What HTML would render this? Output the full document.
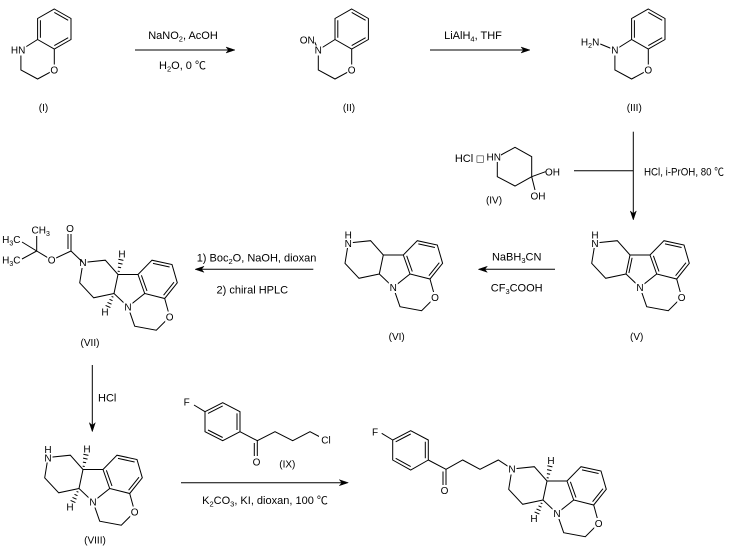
<!DOCTYPE html>
<html><head><meta charset="utf-8"><style>
html,body{margin:0;padding:0;background:#fff;width:730px;height:547px;overflow:hidden}
svg{display:block}
path,line{stroke:#000;stroke-width:1;fill:none}
polygon{fill:#000;stroke:#000;stroke-width:0.5}
text{font-family:"Liberation Sans","Noto Sans CJK SC",sans-serif;fill:#000}
.a{font-size:10px;text-anchor:middle}
.ae{font-size:10px;text-anchor:end}
.as{font-size:10px;text-anchor:start}
.r{font-size:11px;text-anchor:middle}
.rs{font-size:11px;text-anchor:start}
.m{fill:#fff;stroke:none}
</style></head><body>
<svg width="730" height="547" viewBox="0 0 730 547" xmlns="http://www.w3.org/2000/svg">
<rect width="730" height="547" fill="#fff"/>

<!-- (I) -->
<g transform="translate(54.3,29)">
<path d="M0 -20L16.7 -10.5L16.7 10.5L0 20L-16.7 10.5L-16.7 -10.5Z M0 -16.6L13.9 -8.7 M13.9 8.7L0 16.6 M-13.9 -8.7L-13.9 8.7 M-16.7 10.5L-33.4 21L-33.4 41L-16.7 50L0 41L0 20"/>
<rect class="m" x="-4.5" y="35.5" width="9" height="11"/>
<text class="a" x="0" y="44.6">O</text>
<rect class="m" x="-43" y="15.5" width="15" height="11"/>
<text class="ae" x="-29" y="24.6">HN</text>
</g>
<text class="a" x="43.5" y="111">(I)</text>

<!-- arrow 1 -->
<line x1="135" y1="50" x2="229" y2="50"/>
<polygon points="235,50 226,47 228.5,50 226,53"/>
<text class="r" x="183" y="39">NaNO<tspan dy="2.5" font-size="7.5">2</tspan><tspan dy="-2.5">, AcOH</tspan></text>
<text class="r" x="182.5" y="69">H<tspan dy="2.5" font-size="7.5">2</tspan><tspan dy="-2.5">O, 0 ℃</tspan></text>

<!-- (II) -->
<g transform="translate(351.7,29)">
<path d="M0 -20L16.7 -10.5L16.7 10.5L0 20L-16.7 10.5L-16.7 -10.5Z M0 -16.6L13.9 -8.7 M13.9 8.7L0 16.6 M-13.9 -8.7L-13.9 8.7 M-16.7 10.5L-33.4 21L-33.4 41L-16.7 50L0 41L0 20 M-37 13L-33.4 21"/>
<rect class="m" x="-4.5" y="35.5" width="9" height="11"/>
<text class="a" x="0" y="44.6">O</text>
<rect class="m" x="-38" y="16.5" width="9" height="10"/>
<text class="a" x="-33.4" y="24.6">N</text>
<rect class="m" x="-52" y="5" width="15" height="10"/>
<text class="ae" x="-37" y="14.6">ON</text>
</g>
<text class="a" x="349" y="111">(II)</text>

<!-- arrow 2 -->
<line x1="430" y1="50" x2="524" y2="50"/>
<polygon points="530,50 521,47 523.5,50 521,53"/>
<text class="r" x="473" y="39">LiAlH<tspan dy="2.5" font-size="7.5">4</tspan><tspan dy="-2.5">, THF</tspan></text>

<!-- (III) -->
<g transform="translate(648.3,29)">
<path d="M0 -20L16.7 -10.5L16.7 10.5L0 20L-16.7 10.5L-16.7 -10.5Z M0 -16.6L13.9 -8.7 M13.9 8.7L0 16.6 M-13.9 -8.7L-13.9 8.7 M-16.7 10.5L-33.4 21L-33.4 41L-16.7 50L0 41L0 20 M-48 15L-33.4 21"/>
<rect class="m" x="-4.5" y="35.5" width="9" height="11"/>
<text class="a" x="0" y="44.6">O</text>
<rect class="m" x="-38" y="16.5" width="9" height="10"/>
<text class="a" x="-33.4" y="24.6">N</text>
<rect class="m" x="-67" y="7" width="18" height="11"/>
<text class="ae" x="-49" y="16.3">H<tspan dy="2.5" font-size="7">2</tspan><tspan dy="-2.5">N</tspan></text>
</g>
<text class="a" x="634.3" y="111">(III)</text>

<!-- (IV) -->
<path d="M497.3 157L515 147.3L531.7 156.7L531.7 176.7L515 186L497.3 176.7Z M531.7 176.7L545.5 171.7 M531.7 176.7L535 190"/>
<text class="r" x="464" y="162">HCl</text>
<text x="480" y="161.5" font-size="9" text-anchor="middle" style="font-family:'DejaVu Sans',sans-serif">□</text>
<rect class="m" x="486" y="151" width="15" height="11"/>
<text class="ae" x="501" y="160.3">HN</text>
<rect class="m" x="545.5" y="166" width="14" height="11"/>
<text class="a" x="552.5" y="175.3">OH</text>
<rect class="m" x="531" y="190.5" width="14" height="11"/>
<text class="a" x="538" y="199.6">OH</text>
<text class="a" x="494" y="203.6">(IV)</text>

<!-- arrow with branch -->
<line x1="574" y1="170.7" x2="633.3" y2="170.7"/>
<line x1="633.3" y1="131.7" x2="633.3" y2="214"/>
<polygon points="633.3,220 630.3,211 633.3,213.5 636.3,211"/>
<text class="rs" x="644" y="175.7" textLength="80" lengthAdjust="spacingAndGlyphs">HCl, i-PrOH, 80 ℃</text>

<!-- (V) -->
<g>
<path d="M595 243L617.3 240.7L630 255L650 255L664 240.7L684 245L689.3 263.3L676.7 279L656.7 274L650 255 M656.7 274L640 287.3L626 274L630 255 M626 274L605.7 278.3L591.7 263.3L595 243 M640 287.3L646.7 306.7L668.3 310.7L681.7 297.3L676.7 279 M665 243.9L681.6 247.5 M686 262.7L675.6 275.7 M653.4 255.8L659 271.5 M632.1 257.8L628.9 273"/>
<rect class="m" x="590.5" y="229" width="9" height="19"/>
<text class="a" x="595" y="238.3">H</text>
<text class="a" x="595" y="246.8">N</text>
<rect class="m" x="635.5" y="282" width="9" height="11"/>
<text class="a" x="640" y="290.9">N</text>
<rect class="m" x="677.2" y="292" width="9" height="11"/>
<text class="a" x="681.7" y="300.9">O</text>
</g>
<text class="a" x="636.7" y="340.2">(V)</text>

<!-- arrow NaBH3CN -->
<line x1="484" y1="269.3" x2="555" y2="269.3"/>
<polygon points="478.3,269.3 487.3,266.3 484.8,269.3 487.3,272.3"/>
<text class="r" x="516.7" y="260.7">NaBH<tspan dy="2.5" font-size="7.5">3</tspan><tspan dy="-2.5">CN</tspan></text>
<text class="r" x="516.7" y="291.3">CF<tspan dy="2.5" font-size="7.5">3</tspan><tspan dy="-2.5">COOH</tspan></text>

<!-- (VI) -->
<g transform="translate(-246.7,0)">
<path d="M595 243L617.3 240.7L630 255L650 255L664 240.7L684 245L689.3 263.3L676.7 279L656.7 274L650 255 M656.7 274L640 287.3L626 274L630 255 M626 274L605.7 278.3L591.7 263.3L595 243 M640 287.3L646.7 306.7L668.3 310.7L681.7 297.3L676.7 279 M665 243.9L681.6 247.5 M686 262.7L675.6 275.7 M653.4 255.8L659 271.5"/>
<rect class="m" x="590.5" y="229" width="9" height="19"/>
<text class="a" x="595" y="238.3">H</text>
<text class="a" x="595" y="246.8">N</text>
<rect class="m" x="635.5" y="282" width="9" height="11"/>
<text class="a" x="640" y="290.9">N</text>
<rect class="m" x="677.2" y="292" width="9" height="11"/>
<text class="a" x="681.7" y="300.9">O</text>
</g>
<text class="a" x="396.7" y="340.2">(VI)</text>

<!-- arrow Boc -->
<line x1="200" y1="269.3" x2="313.3" y2="269.3"/>
<polygon points="195,269.3 204,266.3 201.5,269.3 204,272.3"/>
<text class="rs" x="196.7" y="261.3">1) Boc<tspan dy="2.5" font-size="7.5">2</tspan><tspan dy="-2.5">O, NaOH, dioxan</tspan></text>
<text class="r" x="252.3" y="293.3">2) chiral HPLC</text>

<!-- (VII) -->
<g transform="translate(-512,19.5)">
<path d="M595 243L617.3 240.7L630 255L650 255L664 240.7L684 245L689.3 263.3L676.7 279L656.7 274L650 255 M656.7 274L640 287.3L626 274L630 255 M626 274L605.7 278.3L591.7 263.3L595 243 M640 287.3L646.7 306.7L668.3 310.7L681.7 297.3L676.7 279 M665 243.9L681.6 247.5 M686 262.7L675.6 275.7 M653.4 255.8L659 271.5"/>
<path d="M629.7 251.6L631.7 252 M629.9 247.6L633.1 248.2 M630.1 243.6L634.5 244.6 M630.4 239.8L635.4 240.9 M623.6 276.9L625.4 277.7 M621.5 279.8L624.5 281.2 M619.5 282.9L623.5 284.7 M617.6 285.9L622.4 288.1"/>
<text class="a" x="634" y="237.9">H</text>
<text class="a" x="617" y="296.2">H</text>
<rect class="m" x="590.5" y="237.5" width="9" height="11"/>
<text class="a" x="595" y="246.6">N</text>
<rect class="m" x="635.5" y="282" width="9" height="11"/>
<text class="a" x="640" y="290.9">N</text>
<rect class="m" x="677.2" y="292" width="9" height="11"/>
<text class="a" x="681.7" y="300.9">O</text>
</g>
<!-- Boc group -->
<path d="M83 262.5L71 251L51.7 260L36.7 251 M71 251L71 234 M68 249L68 234 M36.7 251L36.7 236 M36.7 251L22 242 M36.7 251L22 259"/>
<rect class="m" x="65.5" y="223" width="9" height="11"/>
<text class="a" x="70" y="232.1">O</text>
<rect class="m" x="47.2" y="254.5" width="9" height="11"/>
<text class="a" x="51.7" y="263.6">O</text>
<rect class="m" x="31" y="224.5" width="20" height="11"/>
<text class="as" x="31.5" y="233.6">CH<tspan dy="2.5" font-size="7">3</tspan></text>
<rect class="m" x="2" y="233.5" width="19" height="11"/>
<text class="ae" x="20.5" y="242.9">H<tspan dy="2.5" font-size="7">3</tspan><tspan dy="-2.5">C</tspan></text>
<rect class="m" x="2" y="254.5" width="19" height="11"/>
<text class="ae" x="20.5" y="263.6">H<tspan dy="2.5" font-size="7">3</tspan><tspan dy="-2.5">C</tspan></text>
<text class="a" x="90" y="346.2">(VII)</text>

<!-- HCl arrow -->
<line x1="92.3" y1="365" x2="92.3" y2="426"/>
<polygon points="92.3,431.7 89.3,422.7 92.3,425.2 95.3,422.7"/>
<text class="rs" x="98" y="401.3">HCl</text>

<!-- (VIII) -->
<g transform="translate(-547,214.5)">
<path d="M595 243L617.3 240.7L630 255L650 255L664 240.7L684 245L689.3 263.3L676.7 279L656.7 274L650 255 M656.7 274L640 287.3L626 274L630 255 M626 274L605.7 278.3L591.7 263.3L595 243 M640 287.3L646.7 306.7L668.3 310.7L681.7 297.3L676.7 279 M665 243.9L681.6 247.5 M686 262.7L675.6 275.7 M653.4 255.8L659 271.5"/>
<path d="M629.7 251.6L631.7 252 M629.9 247.6L633.1 248.2 M630.1 243.6L634.5 244.6 M630.4 239.8L635.4 240.9 M623.6 276.9L625.4 277.7 M621.5 279.8L624.5 281.2 M619.5 282.9L623.5 284.7 M617.6 285.9L622.4 288.1"/>
<text class="a" x="634" y="237.9">H</text>
<text class="a" x="617" y="296.2">H</text>
<rect class="m" x="590.5" y="229" width="9" height="19"/>
<text class="a" x="595" y="238.3">H</text>
<text class="a" x="595" y="246.8">N</text>
<rect class="m" x="635.5" y="282" width="9" height="11"/>
<text class="a" x="640" y="290.9">N</text>
<rect class="m" x="677.2" y="292" width="9" height="11"/>
<text class="a" x="681.7" y="300.9">O</text>
</g>
<text class="a" x="95" y="543.5">(VIII)</text>

<!-- (IX) -->
<path d="M205 411.7L222.7 402.7L240 411.7L240 431.7L222.7 440.7L205 431.7Z M222.7 405.9L208 413.4 M237 413.4L237 430 M208 430L222.7 437.5 M205 411.7L194 405 M240 431.7L257.3 440.7L275 431.7L292.7 440.7L310 431.7L322 438 M257.3 440.7L257.3 456 M254.3 443L254.3 456"/>
<rect class="m" x="182.5" y="396" width="9" height="11"/>
<text class="a" x="186.7" y="405.3">F</text>
<rect class="m" x="252" y="456.5" width="9" height="11"/>
<text class="a" x="256.5" y="465.6">O</text>
<rect class="m" x="319" y="434.5" width="14" height="11"/>
<text class="a" x="326" y="443.6">Cl</text>
<text class="a" x="287.3" y="467.5">(IX)</text>

<!-- bottom arrow -->
<line x1="181" y1="482.7" x2="343" y2="482.7"/>
<polygon points="348.3,482.7 339.3,479.7 341.8,482.7 339.3,485.7"/>
<text class="r" x="265" y="504">K<tspan dy="2.5" font-size="7.5">2</tspan><tspan dy="-2.5">CO</tspan><tspan dy="2.5" font-size="7.5">3</tspan><tspan dy="-2.5">, KI, dioxan, 100 ℃</tspan></text>

<!-- product -->
<path d="M512 469L498.3 460L480 469.3L462.7 460L446 469.3L428.3 460 M446 469.3L446 485 M443 471.5L443 485"/>
<path d="M428.3 440L410.7 430.7L392.7 440L392.7 460L410.7 470L428.3 460Z M410.7 434L395.7 441.8 M425.3 441.8L425.3 458.3 M395.7 458.3L410.7 466.6 M392.7 440L381.7 433.3"/>
<rect class="m" x="370.5" y="426" width="9" height="11"/>
<text class="a" x="375" y="435.3">F</text>
<rect class="m" x="440" y="485" width="9" height="11"/>
<text class="a" x="444.5" y="494.1">O</text>
<g transform="translate(-83,226)">
<path d="M595 243L617.3 240.7L630 255L650 255L664 240.7L684 245L689.3 263.3L676.7 279L656.7 274L650 255 M656.7 274L640 287.3L626 274L630 255 M626 274L605.7 278.3L591.7 263.3L595 243 M640 287.3L646.7 306.7L668.3 310.7L681.7 297.3L676.7 279 M665 243.9L681.6 247.5 M686 262.7L675.6 275.7 M653.4 255.8L659 271.5"/>
<path d="M629.7 251.6L631.7 252 M629.9 247.6L633.1 248.2 M630.1 243.6L634.5 244.6 M630.4 239.8L635.4 240.9 M623.6 276.9L625.4 277.7 M621.5 279.8L624.5 281.2 M619.5 282.9L623.5 284.7 M617.6 285.9L622.4 288.1"/>
<text class="a" x="634" y="237.9">H</text>
<text class="a" x="617" y="296.2">H</text>
<rect class="m" x="590.5" y="237.5" width="9" height="11"/>
<text class="a" x="595" y="246.6">N</text>
<rect class="m" x="635.5" y="282" width="9" height="11"/>
<text class="a" x="640" y="290.9">N</text>
<rect class="m" x="677.2" y="292" width="9" height="11"/>
<text class="a" x="681.7" y="300.9">O</text>
</g>
</svg>
</body></html>
